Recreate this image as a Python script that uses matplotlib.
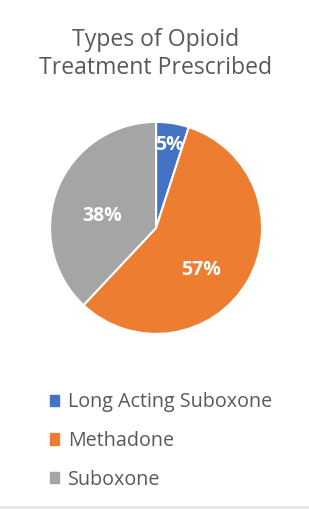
import matplotlib
matplotlib.use("Agg")
import matplotlib.pyplot as plt
import numpy as np
from matplotlib.patches import Rectangle

title = "Types of Opioid\nTreatment Prescribed"
categories = ["Long Acting Suboxone", "Methadone", "Suboxone"]
values = [5, 57, 38]
colors = ["#4472C4", "#ED7D31", "#A5A5A5"]

# label placement style (fraction of radius, angle offset in degrees)
label_dist = [0.79, 0.58, 0.52]
label_ang_off = [0, -12, 9]

plt.rcParams['font.family'] = ['Open Sans', 'DejaVu Sans']

fig = plt.figure(figsize=(3.09, 5.09), dpi=100)
fig.patch.set_facecolor("white")

ax = fig.add_axes([0.162, 0.344, 0.686, 0.4165])
wedges, _ = ax.pie(values, colors=colors, startangle=90, counterclock=False,
                   wedgeprops=dict(edgecolor="white", linewidth=1.5))
ax.set_aspect("equal")
ax.set_xlim(-1, 1)
ax.set_ylim(-1, 1)

total = sum(values)
for w, v, d, off in zip(wedges, values, label_dist, label_ang_off):
    mid = np.deg2rad((w.theta1 + w.theta2) / 2 + off)
    ax.text(d * np.cos(mid), d * np.sin(mid), f"{round(100 * v / total)}%",
            ha="center", va="center", color="white", fontsize=14,
            fontweight="bold")

fig.text(0.505, 0.893, title, ha="center", va="center", color="#595959",
         fontsize=16.6, linespacing=1.22)

handles = [Rectangle((0, 0), 1, 1, color=c) for c in colors]
leg = fig.legend(handles, categories, loc="upper left",
                 bbox_to_anchor=(0.135, 0.245), frameon=False,
                 fontsize=14.2, handlelength=0.5, handleheight=0.5,
                 handletextpad=0.45, labelspacing=0.95, borderaxespad=0)
for t in leg.get_texts():
    t.set_color("#595959")

fig.add_artist(Rectangle((0, 0), 1, 0.006, transform=fig.transFigure,
                         color="#E6E6E6", lw=0))

fig.savefig("out.png", dpi=100)
